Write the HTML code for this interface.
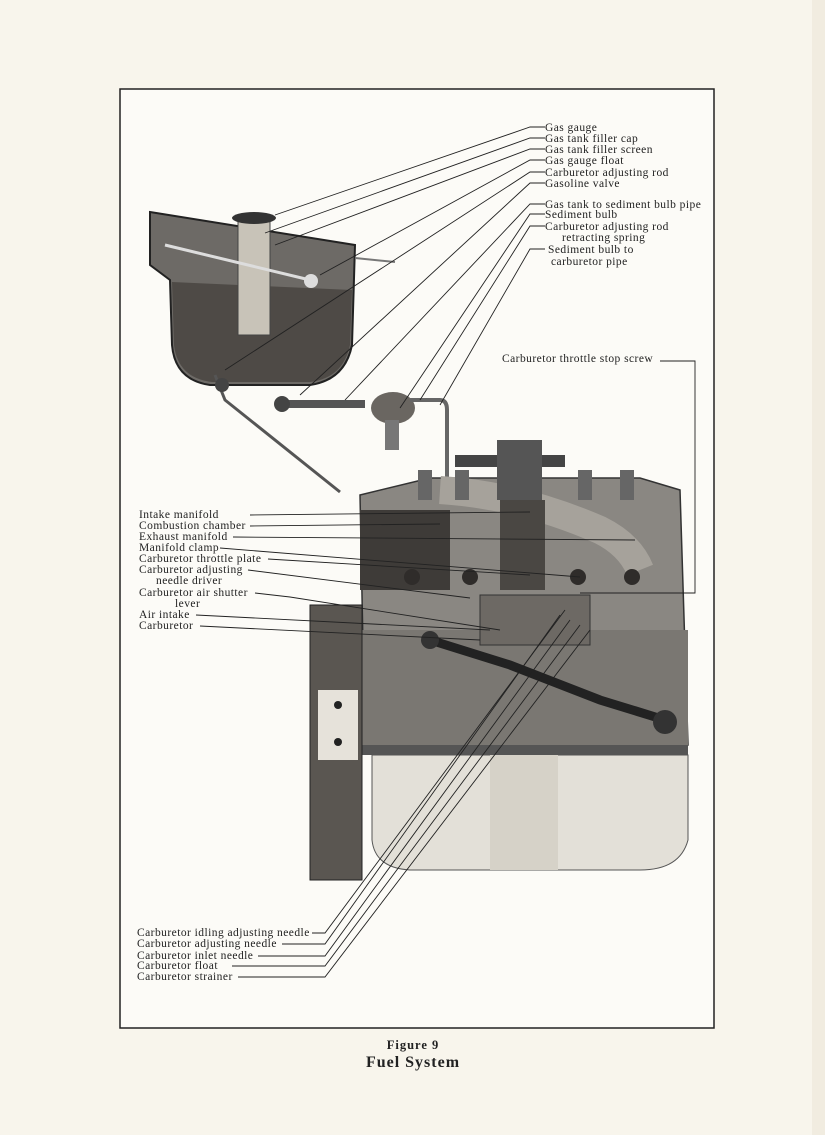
<!DOCTYPE html>
<html><head><meta charset="utf-8"><style>
html,body{margin:0;padding:0;background:#f8f6ef;}
svg{display:block}
text{font-family:"Liberation Serif",serif;fill:#222;font-size:11.5px;letter-spacing:0.45px}
</style></head><body>
<svg width="825" height="1135" viewBox="0 0 825 1135" xmlns="http://www.w3.org/2000/svg">
<rect width="825" height="1135" fill="#f8f5ec"/>
<rect x="812" y="0" width="13" height="1135" fill="#f1ece0"/>
<rect x="120" y="89" width="594" height="939" fill="#fcfbf7" stroke="#222" stroke-width="1.5"/>

<!-- gas tank -->
<path d="M150 212 L355 245 L352 345 Q345 380 310 385 L210 385 Q175 380 172 345 L170 280 L150 265 Z" fill="#6d6a66" stroke="#222" stroke-width="2"/>
<path d="M172 282 L352 290 L350 345 Q343 378 310 382 L212 382 Q178 378 174 345 Z" fill="#4e4a46"/>
<rect x="238" y="220" width="32" height="115" fill="#c8c3b8" stroke="#444"/>
<ellipse cx="254" cy="218" rx="22" ry="6" fill="#333"/>
<line x1="165" y1="245" x2="310" y2="280" stroke="#ddd" stroke-width="3"/>
<circle cx="311" cy="281" r="7" fill="#ddd"/>
<path d="M355 258 L395 262" stroke="#777" stroke-width="2"/>
<!-- fuel line / valve -->
<path d="M215 375 L225 400 L340 492" stroke="#555" stroke-width="3" fill="none"/>
<circle cx="222" cy="385" r="7" fill="#444"/>
<path d="M275 404 L365 404" stroke="#555" stroke-width="8"/>
<circle cx="282" cy="404" r="8" fill="#444"/>
<ellipse cx="393" cy="408" rx="22" ry="16" fill="#6a6661"/>
<rect x="385" y="420" width="14" height="30" fill="#777"/>
<path d="M410 400 L440 400 Q447 400 447 410 L447 585 Q447 600 470 605" stroke="#666" stroke-width="4" fill="none"/>

<!-- engine -->
<path d="M360 495 L430 478 L640 478 L680 490 L688 745 L365 745 Z" fill="#8a8782" stroke="#333" stroke-width="1.5"/>
<rect x="360" y="630" width="328" height="115" fill="#7a7772"/>
<rect x="362" y="745" width="326" height="10" fill="#555"/>
<path d="M372 755 L688 755 L688 840 Q680 870 640 870 L410 870 Q375 868 372 840 Z" fill="#e3e0d8" stroke="#555"/>
<rect x="490" y="755" width="68" height="115" fill="#d6d2c8"/>
<rect x="310" y="605" width="52" height="275" fill="#5a5651" stroke="#222"/>
<rect x="318" y="690" width="40" height="70" fill="#e6e2da"/>
<circle cx="338" cy="705" r="4" fill="#222"/><circle cx="338" cy="742" r="4" fill="#222"/>
<path d="M440 490 Q520 495 600 530 Q630 545 640 570" stroke="#a6a29b" stroke-width="28" fill="none"/>
<rect x="360" y="510" width="90" height="80" fill="#3e3b38"/>
<rect x="500" y="500" width="45" height="90" fill="#4a4743"/>
<rect x="455" y="455" width="110" height="12" fill="#444"/>
<rect x="497" y="440" width="45" height="60" fill="#555"/>
<g fill="#666"><rect x="418" y="470" width="14" height="30"/><rect x="455" y="470" width="14" height="30"/><rect x="578" y="470" width="14" height="30"/><rect x="620" y="470" width="14" height="30"/></g>
<g fill="#2f2c2a"><circle cx="412" cy="577" r="8"/><circle cx="470" cy="577" r="8"/><circle cx="578" cy="577" r="8"/><circle cx="632" cy="577" r="8"/></g>
<path d="M430 640 L510 665 L600 700 L665 720" stroke="#222" stroke-width="9" fill="none"/>
<circle cx="430" cy="640" r="9" fill="#333"/><circle cx="665" cy="722" r="12" fill="#333"/>
<rect x="480" y="595" width="110" height="50" fill="#6d6964" stroke="#333"/>

<!-- leader lines -->
<g stroke="#222" stroke-width="0.9" fill="none">
<path d="M545 127 L530 127 L275 215"/>
<path d="M545 138 L530 138 L265 233"/>
<path d="M545 149 L530 149 L275 245"/>
<path d="M545 160 L530 160 L320 275"/>
<path d="M545 172 L530 172 L225 370"/>
<path d="M545 183 L530 183 L300 395"/>
<path d="M545 204 L530 204 L345 400"/>
<path d="M545 214 L530 214 L400 408"/>
<path d="M545 226 L530 226 L420 400"/>
<path d="M545 249 L530 249 L440 405"/>
<path d="M660 361 L695 361 L695 593 L580 593"/>
<path d="M250 515 L530 512"/>
<path d="M250 526 L440 524"/>
<path d="M233 537 L635 540"/>
<path d="M220 548 L580 577"/>
<path d="M268 559 L530 575"/>
<path d="M248 570 L470 598"/>
<path d="M255 593 L290 597 L500 630"/>
<path d="M196 615 L490 630"/>
<path d="M200 626 L480 640"/>
<path d="M312 933 L325 933 L565 610"/>
<path d="M282 944 L325 944 L560 615"/>
<path d="M258 956 L325 956 L570 620"/>
<path d="M232 966 L325 966 L580 625"/>
<path d="M238 977 L325 977 L590 630"/>
</g>

<!-- labels right -->
<text x="545" y="131">Gas gauge</text>
<text x="545" y="142">Gas tank filler cap</text>
<text x="545" y="153">Gas tank filler screen</text>
<text x="545" y="164">Gas gauge float</text>
<text x="545" y="176">Carburetor  adjusting rod</text>
<text x="545" y="187">Gasoline valve</text>
<text x="545" y="208">Gas tank to sediment bulb pipe</text>
<text x="545" y="218">Sediment bulb</text>
<text x="545" y="230">Carburetor  adjusting rod</text>
<text x="562" y="241">retracting spring</text>
<text x="548" y="253">Sediment bulb to</text>
<text x="551" y="265">carburetor pipe</text>
<text x="502" y="362">Carburetor throttle stop screw</text>
<!-- labels left -->
<text x="139" y="518">Intake manifold</text>
<text x="139" y="529">Combustion chamber</text>
<text x="139" y="540">Exhaust manifold</text>
<text x="139" y="551">Manifold clamp</text>
<text x="139" y="562">Carburetor throttle plate</text>
<text x="139" y="573">Carburetor adjusting</text>
<text x="156" y="584">needle driver</text>
<text x="139" y="596">Carburetor air shutter</text>
<text x="175" y="607">lever</text>
<text x="139" y="618">Air intake</text>
<text x="139" y="629">Carburetor</text>
<text x="137" y="936">Carburetor idling adjusting needle</text>
<text x="137" y="947">Carburetor adjusting needle</text>
<text x="137" y="959">Carburetor inlet needle</text>
<text x="137" y="969">Carburetor float</text>
<text x="137" y="980">Carburetor strainer</text>

<text x="413" y="1049" text-anchor="middle" style="font-size:12.5px;font-weight:bold;letter-spacing:1px">Figure 9</text>
<text x="413" y="1067" text-anchor="middle" style="font-size:16px;font-weight:bold;letter-spacing:1px">Fuel System</text>
</svg>
</body></html>
